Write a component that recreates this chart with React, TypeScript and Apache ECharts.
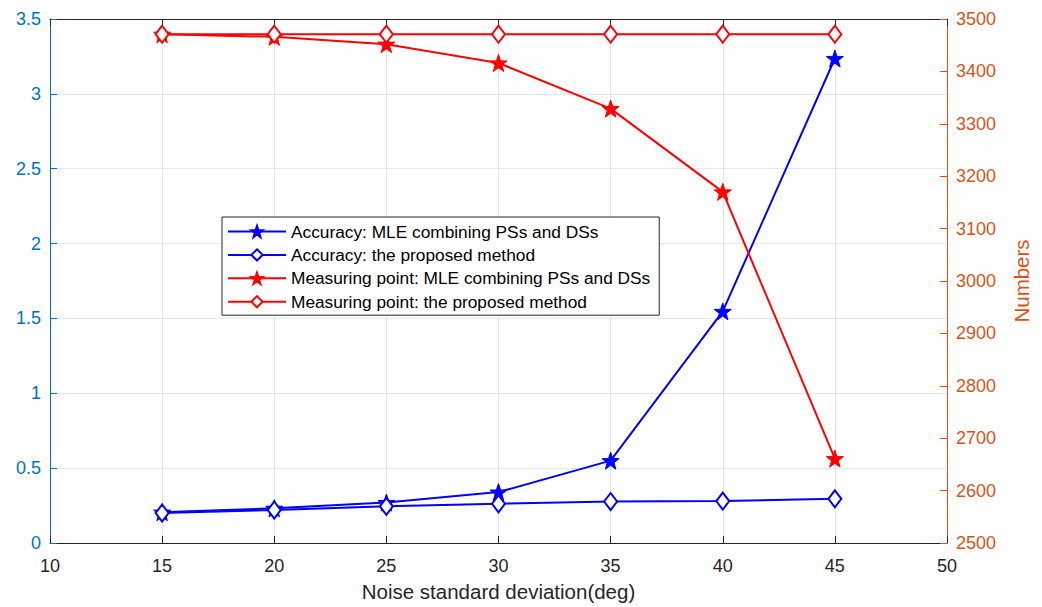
import React, { useEffect, useRef } from "react";
import * as echarts from "echarts";

const xValues = [15, 20, 25, 30, 35, 40, 45];
const accMle = [0.206, 0.232, 0.27, 0.34, 0.55, 1.547, 3.236];
const accProposed = [0.2, 0.22, 0.245, 0.262, 0.277, 0.28, 0.295];
const mpMle = [3471, 3466, 3452, 3416, 3329, 3170, 2661];
const mpProposed = [3471, 3471, 3471, 3471, 3471, 3471, 3471];
const seriesNames = [
  "Accuracy: MLE combining PSs and DSs",
  "Accuracy: the proposed method",
  "Measuring point: MLE combining PSs and DSs",
  "Measuring point: the proposed method",
];

const STAR =
  "path://M50 0 L61.76 33.82 L97.55 34.55 L69.02 56.18 L79.39 90.45 L50 70 L20.61 90.45 L30.98 56.18 L2.45 34.55 L38.24 33.82 Z";

const FONT = "'Liberation Sans', Arial, Helvetica, sans-serif";

export default function App() {
  const ref = useRef<HTMLDivElement>(null);
  useEffect(() => {
    const chart = echarts.init(ref.current!, null, { renderer: "svg" });
    const pair = (ys: number[]) => xValues.map((x, i) => [x, ys[i]]);
    const mk = (name: string, data: number[], color: string, star: boolean, yIdx: number) => ({
      name,
      type: "line",
      yAxisIndex: yIdx,
      data: pair(data),
      symbol: star ? STAR : "emptyDiamond",
      symbolSize: star ? 17 : [13, 17],
      showAllSymbol: true,
      lineStyle: { color, width: 2 },
      itemStyle: star
        ? { color, borderColor: color, borderWidth: 1 }
        : { color, borderColor: color, borderWidth: 2 },
      emphasis: { disabled: true },
      z: 3,
    });
    chart.setOption({
      animation: false,
      textStyle: { fontFamily: FONT },
      grid: { left: 50, width: 897, top: 19, height: 527, containLabel: false },
      legend: {
        orient: "vertical",
        left: 222,
        top: 217,
        width: 435,
        padding: [6, 9, 5, 5],
        itemWidth: 58,
        itemHeight: 14,
        itemGap: 6.4,
        backgroundColor: "#fff",
        borderColor: "#262626",
        borderWidth: 1,
        textStyle: { fontSize: 17.3, color: "#000", fontFamily: FONT },
        data: seriesNames,
        z: 10,
      },
      xAxis: [
        {
          type: "value",
          min: 10,
          max: 50,
          interval: 5,
          name: "Noise standard deviation(deg)",
          nameLocation: "middle",
          nameGap: 38,
          nameTextStyle: { fontSize: 20.5, color: "#262626", fontFamily: FONT },
          axisLine: { show: true, lineStyle: { color: "#262626", width: 1 } },
          axisTick: { show: true, inside: true, length: 7, lineStyle: { color: "#262626" } },
          axisLabel: { fontSize: 18, color: "#262626", margin: 14, fontFamily: FONT },
          splitLine: { show: true, lineStyle: { color: "#e5e5e5", width: 1 } },
        },
        {
          type: "value",
          position: "top",
          min: 10,
          max: 50,
          interval: 5,
          axisLine: { show: true, lineStyle: { color: "#262626", width: 1 } },
          axisTick: { show: true, inside: true, length: 7, lineStyle: { color: "#262626" } },
          axisLabel: { show: false },
          splitLine: { show: false },
        },
      ],
      yAxis: [
        {
          type: "value",
          min: 0,
          max: 3.5,
          interval: 0.5,
          position: "left",
          axisLine: { show: true, lineStyle: { color: "#0072BD", width: 1 } },
          axisTick: { show: true, inside: true, length: 7, lineStyle: { color: "#0072BD" } },
          axisLabel: { fontSize: 18, color: "#0072BD", margin: 9, fontFamily: FONT },
          splitLine: { show: true, lineStyle: { color: "#dfe9f2", width: 1 } },
        },
        {
          type: "value",
          min: 2500,
          max: 3500,
          interval: 100,
          position: "right",
          name: "Numbers",
          nameLocation: "middle",
          nameGap: 64,
          nameRotate: 90,
          nameTextStyle: { fontSize: 20.5, color: "#D95319", fontFamily: FONT },
          axisLine: { show: true, lineStyle: { color: "#D95319", width: 1 } },
          axisTick: { show: true, inside: true, length: 7, lineStyle: { color: "#D95319" } },
          axisLabel: {
            fontSize: 18,
            color: "#D95319",
            margin: 9,
            fontFamily: FONT,
            formatter: (v: number) => String(v),
          },
          splitLine: { show: false },
        },
      ],
      series: [
        mk(seriesNames[0], accMle, "#0000FF", true, 0),
        mk(seriesNames[1], accProposed, "#0000FF", false, 0),
        mk(seriesNames[2], mpMle, "#FF0000", true, 1),
        mk(seriesNames[3], mpProposed, "#FF0000", false, 1),
      ],
    });
    return () => chart.dispose();
  }, []);
  return (
    <div
      ref={ref}
      style={{ position: "fixed", left: 0, top: 0, width: 1042, height: 607, background: "#fff" }}
    />
  );
}
